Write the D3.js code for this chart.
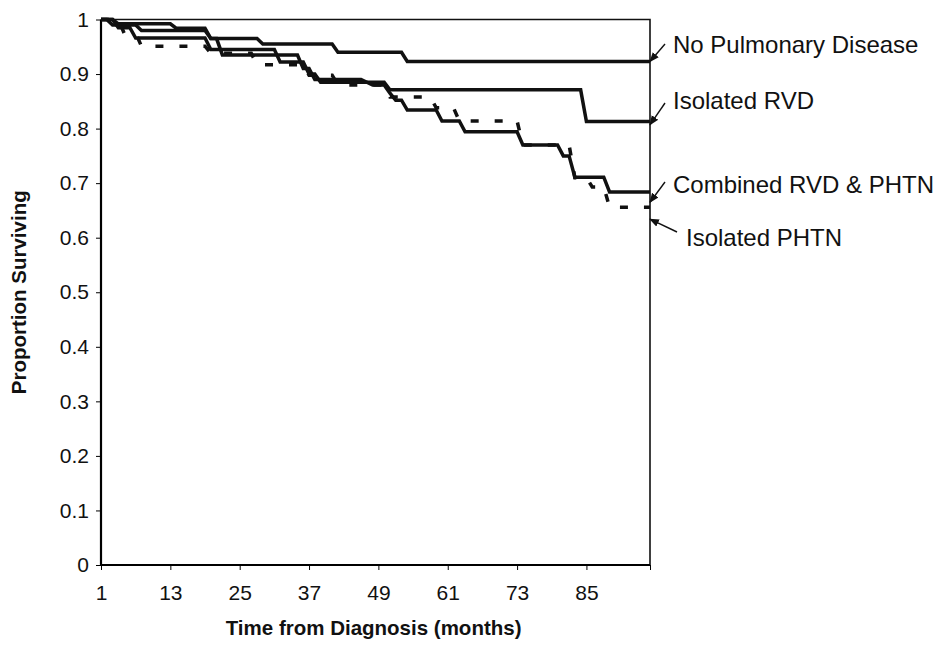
<!DOCTYPE html>
<html>
<head>
<meta charset="utf-8">
<script src="https://cdn.jsdelivr.net/npm/d3@7"></script>
<style>
  body { margin: 0; background: #fff; }
  text { font-family: "Liberation Sans", Arial, sans-serif; fill: #111; }
</style>
</head>
<body>
<script>
// survival step data: [month, proportion] - value reached at that month
var noPulmonary = [[1, 1], [4, 0.992], [14, 0.984], [20, 0.965], [29, 0.955], [42, 0.94], [54, 0.923]];
var isolatedRVD = [[1, 1], [3, 0.99], [8, 0.98], [20, 0.965], [22, 0.935], [36, 0.91], [38, 0.89], [47, 0.885], [51, 0.871], [85, 0.813]];
var combined = [[1, 1], [4, 0.985], [7, 0.966], [20, 0.945], [32, 0.922], [37, 0.9], [39, 0.885], [48, 0.88], [51, 0.865],
  [52, 0.852], [54, 0.834], [60, 0.814], [64, 0.794], [74, 0.77], [81, 0.75], [83, 0.711], [89, 0.684]];
var isolatedPHTN = [[1, 1], [5, 0.975], [8, 0.951], [20, 0.938], [28, 0.917], [37, 0.898], [42, 0.88], [51, 0.858],
  [59, 0.838], [63, 0.814], [74, 0.77], [83, 0.71], [86, 0.693], [89, 0.656]];

var xTicks = [1, 13, 25, 37, 49, 61, 73, 85];
var yTicks = [0, 0.1, 0.2, 0.3, 0.4, 0.5, 0.6, 0.7, 0.8, 0.9, 1];

var labels = ["No Pulmonary Disease", "Isolated RVD", "Combined RVD & PHTN", "Isolated PHTN"];
var labelTips = [0.923, 0.807, 0.665, 0.634];

var w = 938, h = 653;
var svg = d3.select("body").append("svg").attr("width", w).attr("height", h);

var x = d3.scaleLinear().domain([1, 96]).range([101, 650]);
var y = d3.scaleLinear().domain([0, 1]).range([565, 19.5]);

// frame (top + right)
svg.append("path")
  .attr("d", "M" + x(1) + "," + y(1) + "H" + x(96) + "V" + y(0))
  .attr("fill", "none").attr("stroke", "#111").attr("stroke-width", 1.6);

// axes
var yAxis = d3.axisLeft(y).tickValues(yTicks).tickSize(5).tickPadding(7)
  .tickFormat(function(d) { return d === 0 || d === 1 ? d : d3.format(".1f")(d); });
var gy = svg.append("g").attr("transform", "translate(" + x(1) + ",0)").call(yAxis);
gy.select(".domain").attr("stroke-width", 2.2).attr("d", "M0," + y(0) + "V" + y(1));
gy.selectAll("text").style("font-size", "21px");

var xAxis = d3.axisBottom(x).tickValues(xTicks.concat([96])).tickSize(5).tickPadding(15)
  .tickFormat(function(d) { return d === 96 ? "" : d; });
var gx = svg.append("g").attr("transform", "translate(0," + y(0) + ")").call(xAxis);
gx.select(".domain").attr("stroke-width", 2).attr("d", "M" + x(1) + ",0H" + x(96));
gx.selectAll("text").style("font-size", "21px");

// step curves drawn like an Excel line chart (drop spans one month)
function stepPoints(ev) {
  var pts = [ev[0]];
  for (var i = 1; i < ev.length; i++) {
    pts.push([ev[i][0] - 1, ev[i - 1][1]]);
    pts.push(ev[i]);
  }
  pts.push([96, ev[ev.length - 1][1]]);
  return pts;
}
var line = d3.line().x(function(d) { return x(d[0]); }).y(function(d) { return y(d[1]); });

[noPulmonary, isolatedRVD, combined].forEach(function(s) {
  svg.append("path").attr("d", line(stepPoints(s)))
    .attr("fill", "none").attr("stroke", "#111").attr("stroke-width", 3.5)
    .attr("stroke-linejoin", "miter");
});
svg.append("path").attr("d", line(stepPoints(isolatedPHTN)))
  .attr("fill", "none").attr("stroke", "#111").attr("stroke-width", 3.5)
  .attr("stroke-dasharray", "8,16");

// arrow annotations
svg.append("defs").append("marker")
  .attr("id", "arr").attr("viewBox", "0 0 10 10").attr("refX", 9).attr("refY", 5)
  .attr("markerWidth", 7).attr("markerHeight", 7).attr("orient", "auto-start-reverse")
  .append("path").attr("d", "M0,1L10,5L0,9z").attr("fill", "#111");

var labX = [673, 673, 673, 686];
var labY = [45, 101, 185, 238];
var tailX = [665, 665, 665, 677];
var tailY = [44, 103, 182, 232];
labels.forEach(function(t, i) {
  svg.append("line")
    .attr("x1", tailX[i]).attr("y1", tailY[i])
    .attr("x2", x(96)).attr("y2", y(labelTips[i]))
    .attr("stroke", "#111").attr("stroke-width", 1.4).attr("marker-end", "url(#arr)");
  svg.append("text").attr("x", labX[i]).attr("y", labY[i]).attr("dy", "0.35em")
    .style("font-size", "24px").text(t);
});

// axis titles
svg.append("text").attr("x", x(48) + 1).attr("y", 635).attr("text-anchor", "middle")
  .style("font-size", "20.5px").style("font-weight", "bold").text("Time from Diagnosis (months)");
svg.append("text").attr("transform", "translate(26," + y(0.5) + ") rotate(-90)")
  .attr("text-anchor", "middle")
  .style("font-size", "20.5px").style("font-weight", "bold").text("Proportion Surviving");
</script>
</body>
</html>
